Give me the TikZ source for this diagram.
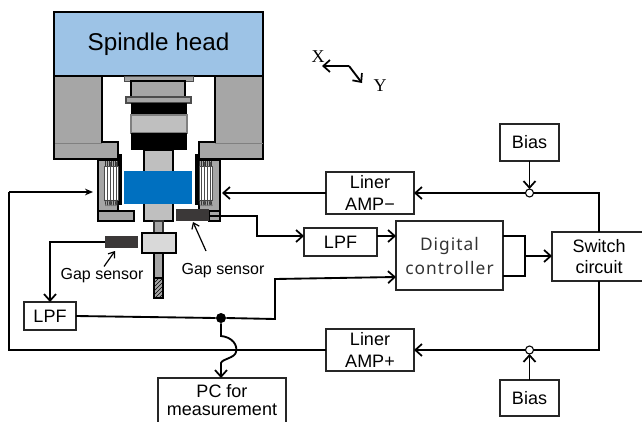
\documentclass[tikz,border=0pt]{standalone}
\usepackage{fontspec}
\setmainfont{Liberation Sans}
\newfontfamily\axisfont{Liberation Serif}
\newfontfamily\ctrlfont[LetterSpace=6]{Noto Sans}
\usetikzlibrary{arrows.meta,patterns}

\definecolor{headblue}{HTML}{9DC3E6}
\definecolor{rotorblue}{HTML}{0070C0}
\definecolor{bodygray}{HTML}{A6A6A6}
\definecolor{shaftgray}{HTML}{BFBFBF}
\definecolor{sensordark}{HTML}{3B3838}
\definecolor{collargray}{HTML}{D9D9D9}

\tikzset{
  x=0.75pt, y=-0.75pt,
  >={Straight Barb[length=5pt,width=9pt,line width=1.3pt]},
  blockbox/.style 2 args={draw=black!85, line width=0.9pt, fill=white, inner sep=0pt, outer sep=0pt,
    align=center, minimum width=#1*0.75pt, minimum height=#2*0.75pt,
    font=\fontsize{13.5}{16}\selectfont},
  wire/.style={line width=1.4pt, black},
  part/.style={draw=black, line width=1.3pt},
  sumpoint/.style={circle, draw=black, line width=0.8pt, fill=white, inner sep=0pt, minimum size=8pt*0.75, outer sep=0pt},
  gaplabel/.style={inner sep=0pt, font=\fontsize{12}{14}\selectfont},
  axislabel/.style={inner sep=0pt, font=\axisfont\fontsize{13.5}{16}\selectfont},
  pointer/.style={line width=0.9pt, -{Straight Barb[length=4pt,width=6pt,line width=0.9pt]}},
}

\begin{document}
\begin{tikzpicture}
\useasboundingbox (0,0) rectangle (642,421);

% housing
\draw[part, fill=bodygray] (54,76) -- (102,76) -- (102,142) -- (118,142) -- (118,159) -- (54,159) -- cycle;
\draw[part, fill=bodygray] (263,76) -- (215,76) -- (215,142) -- (199,142) -- (199,159) -- (263,159) -- cycle;
\draw[gray, thin] (55,143) -- (102,143);
\draw[gray, thin] (215,143) -- (263,143);

% spindle head
\node[draw=black, line width=1.3pt, fill=headblue, inner sep=0pt, minimum width=209*0.75pt, minimum height=64*0.75pt, font=\fontsize{18.2}{20}\selectfont] (head) at (158.5,44) {Spindle head};

% upper shaft
\draw[draw=black!70, fill=bodygray, line width=0.7pt] (124,76) rectangle (193,81);
\draw[draw=black, fill=bodygray, line width=0.8pt] (131,81) rectangle (185,97);
\draw[draw=black!70, fill=bodygray, line width=0.8pt] (126,97) rectangle (191,103);
\fill[black] (131,103) rectangle (187,115);
\draw[draw=gray, fill=shaftgray, line width=1pt] (131,115) rectangle (187,133);
\fill[black] (131,133) rectangle (187,150);
\draw[part, fill=shaftgray] (144,150) rectangle (173,221);

% left coil
\draw[part, fill=bodygray] (98,160) rectangle (118,212);
\fill[black] (118,154) rectangle (122,205);
\draw[fill=white, draw=black!70, line width=0.5pt] (104,166) rectangle (118,200);
\foreach \x in {107,110,113,116}
\draw[black!70, line width=0.6pt] (\x,162) -- (\x,205);
\foreach \x in {105,107,...,117}
{
\draw[black!80, line width=0.5pt] (\x,161) -- (\x,166);
\draw[black!80, line width=0.5pt] (\x,200) -- (\x+1,206);
}
\draw[part, fill=bodygray] (98,211) rectangle (134,221);

% right coil
\draw[part, fill=bodygray] (199,160) rectangle (220,212);
\fill[black] (195,154) rectangle (199,205);
\draw[fill=white, draw=black!70, line width=0.5pt] (199,166) rectangle (212,200);
\foreach \x in {201,204,207,210}
\draw[black!70, line width=0.6pt] (\x,162) -- (\x,205);
\foreach \x in {199,201,...,211}
{
\draw[black!80, line width=0.5pt] (\x,161) -- (\x,166);
\draw[black!80, line width=0.5pt] (\x,200) -- (\x+1,206);
}

% rotor and sensors
\fill[rotorblue] (124,171) rectangle (192,204);
\draw[part, fill=bodygray] (209,211) rectangle (220,221);
\draw[black, line width=0.8pt] (209,216) -- (220,216);
\fill[sensordark] (176,209) rectangle (209,221);
\fill[sensordark] (105,236) rectangle (138,248);

% tool
\draw[draw=black!80, fill=bodygray, line width=1pt] (154,221) rectangle (163,233);
\draw[draw=black, fill=bodygray, line width=1pt] (154,253) rectangle (163,298);
\draw[draw=black, pattern=north east lines, line width=0.8pt] (154,278) rectangle (163,298);
\draw[part, fill=collargray] (142,233) rectangle (176,253);

% axes
\coordinate (axes) at (349,66);
\coordinate (axesx) at (322,66);
\coordinate (axesy) at (362,83);
\draw[wire,->] (axes) -- (axesx);
\draw[wire,->] (axes) -- (axesy);
\node[axislabel] (xlabel) at (318,57) {X};
\node[axislabel] (ylabel) at (380,86) {Y};

% blocks
\node[blockbox={88}{42}] (ampminus) at (370,193) {Liner\\AMP−};
\node[blockbox={88}{42}] (ampplus) at (370,350) {Liner\\AMP+};
\node[blockbox={59}{37}] (biastop) at (529.5,142.5) {Bias};
\node[blockbox={59}{36}] (biasbot) at (529.5,398) {Bias};
\node[blockbox={94}{49}, font=\fontsize{13.5}{15.5}\selectfont] (switch) at (599,256.5) {Switch\\circuit};
\node[blockbox={107}{69}, font=\ctrlfont\fontsize{13}{18}\selectfont, text=black!80] (digital) at (449.5,255.5) {Digital\\controller};
\node[blockbox={73}{28}] (lpfupper) at (340.5,242) {LPF};
\node[blockbox={52}{28}] (lpflower) at (50,316) {LPF};
\node[blockbox={128}{45}, font=\fontsize{13.5}{13.5}\selectfont] (pc) at (222,400.5) {PC for\\measurement};
\node[sumpoint] (sumtop) at (529.5,193) {};
\node[sumpoint] (sumbot) at (529.5,350) {};
\node[circle, fill=black, inner sep=0pt, minimum size=7.5pt] (meas) at (221,318) {};

\node[gaplabel] (gapleft) at (102,276) {Gap sensor};
\node[gaplabel] (gapright) at (223,271) {Gap sensor};

% named ends
\coordinate (coilleft) at (93,192);
\coordinate (coilright) at (222,193);
\coordinate (farleft) at (9,350);
\coordinate (farleftup) at (9,192);
\coordinate (sensupper) at (220,216);
\coordinate (senslower) at (105,242);
\coordinate (digoutup) at (503,236);
\coordinate (digoutlow) at (503,276);
\coordinate (digbus) at (525,256);
\coordinate (digin) at (396,277);
\coordinate (digfb) at (275,279);

% connectors
\draw[wire,->] (ampminus.west) -- (coilright);
\draw[wire] (ampplus.west) -- (farleft) -- (farleftup);
\draw[line width=1.2pt,-{Stealth[length=6pt,width=5pt]}] (farleftup) -- (coilleft);
\draw[wire,->] (biastop.south) -- (sumtop.north);
\draw[wire,->] (biasbot.north) -- (sumbot.south);
\draw[wire] (switch.north) |- (sumtop.east);
\draw[wire] (switch.south) |- (sumbot.east);
\draw[wire,->] (sumtop.west) -- (ampminus.east);
\draw[wire,->] (sumbot.west) -- (ampplus.east);
\draw[wire] (digoutup) -| (digbus) |- (digoutlow);
\draw[wire,->] (digbus) -- (digbus -| switch.west);
\draw[wire,->] (sensupper) -- (257,216) -- (257,236) -- (lpfupper.west |- digoutup);
\draw[wire,->] (lpfupper.east |- digoutup) -- (digital.west |- digoutup);
\draw[wire,->] (senslower) -- (50,242) -- (lpflower.north);
\draw[wire] (lpflower.east) -- (meas.west);
\draw[wire,->] (meas.east) -- (275,319) -- (digfb) -- (digin);
\draw[wire,->] (meas.south) -- (221,336) .. controls (232,337) and (238,345) .. (236,352) .. controls (235,358) and (222,359) .. (221,363) -- (pc.north -| meas);
\draw[pointer] (gapleft.north) ++(2,-2) -- (115,251);
\draw[pointer] (206,251) -- (193,222);

\end{tikzpicture}
\end{document}
